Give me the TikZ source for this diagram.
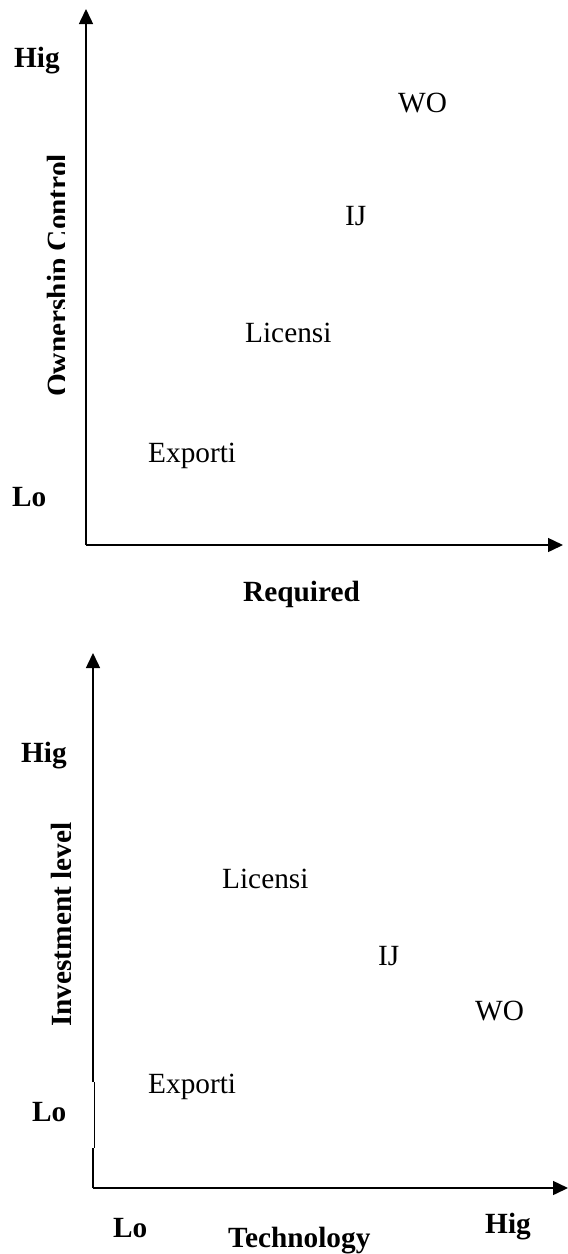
\documentclass[tikz,border=0pt]{standalone}
\usepackage{fontspec}
\setmainfont{Liberation Serif}
\usetikzlibrary{arrows.meta}
\tikzset{
  lbl/.style={inner sep=0pt, anchor=base west, font=\fontsize{29.3}{35}\selectfont},
  blbl/.style={lbl, font=\fontsize{29.3}{35}\selectfont\bfseries},
  axis/.style={line width=1.5pt, -{Triangle[length=15pt,width=14pt]}},
  axisline/.style={line width=1.5pt},
}
\begin{document}
\begin{tikzpicture}[x=1pt,y=-1pt]
\useasboundingbox (0,0) rectangle (568,1254);
% ---------- chart 1 ----------
\coordinate (o1) at (86,545);
\coordinate (y1) at (86,9);
\coordinate (x1) at (563,545);
\draw[axis] (o1) -- (y1);
\draw[axis] (o1) -- (x1);
\node[blbl] (hig1) at (14,67) {Hig};
\node[blbl] (lo1) at (12,506) {Lo};
\begin{scope}
  \clip (0,100) rectangle (64,420);
  \node[blbl, rotate=90] (own) at (67,397) {Ownership Control};
\end{scope}
\node[lbl] (wo1) at (398,112) {WO};
\node[lbl] (ij1) at (345,225) {IJ};
\node[lbl] (lic1) at (245,342) {Licensi};
\node[lbl] (exp1) at (148,462) {Exporti};
\node[blbl] (req) at (243,601) {Required};
% ---------- chart 2 ----------
\coordinate (o2) at (93,1188);
\coordinate (y2) at (93,653);
\coordinate (x2) at (568,1188);
\coordinate (b2a) at (93,1082);
\coordinate (b2b) at (94,1082);
\coordinate (b2c) at (94,1148);
\coordinate (b2d) at (93,1148);
\draw[axis] (b2a) -- (y2);
\draw[line width=0.8pt] (b2b) -- (b2c);
\draw[axisline] (o2) -- (b2d);
\draw[axis] (o2) -- (x2);
\node[blbl] (hig2) at (21,762) {Hig};
\node[blbl] (lo2) at (32,1121) {Lo};
\begin{scope}
  \clip (0,780) rectangle (70,1060);
  \node[blbl, rotate=90] (inv) at (71,1027) {Investment level};
\end{scope}
\node[lbl] (lic2) at (222,888) {Licensi};
\node[lbl] (ij2) at (378,965) {IJ};
\node[lbl] (wo2) at (475,1020) {WO};
\node[lbl] (exp2) at (148,1093) {Exporti};
\node[blbl] (lo3) at (113,1237) {Lo};
\node[blbl] (tech) at (228,1247) {Technology};
\node[blbl] (hig3) at (485,1233) {Hig};
\end{tikzpicture}
\end{document}
